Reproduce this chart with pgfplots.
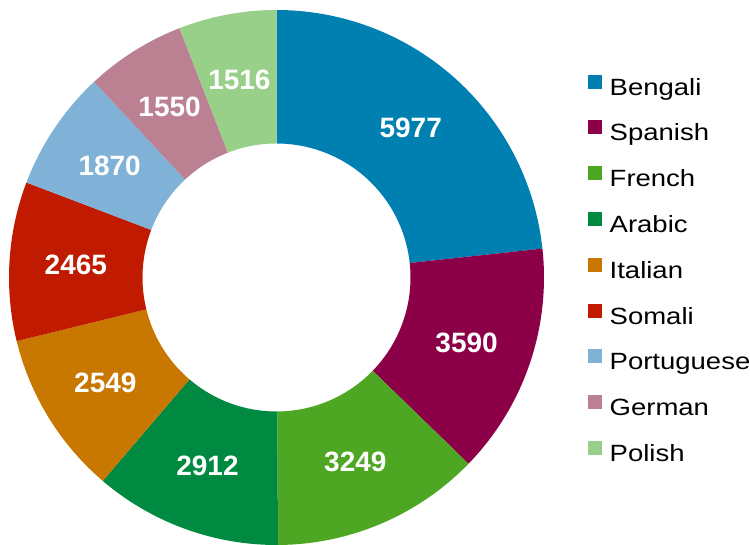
\documentclass[border=0pt]{standalone}
\usepackage{pgfplots}
\usepackage{pgfplotstable}
\pgfplotsset{compat=1.18}
\usepackage{fontspec}
\setmainfont{Liberation Sans}
\newfontfamily\legfont[FakeStretch=1.17]{Liberation Sans}

\definecolor{cBengali}{HTML}{0080B1}
\definecolor{cSpanish}{HTML}{8B0046}
\definecolor{cFrench}{HTML}{4EA722}
\definecolor{cArabic}{HTML}{008940}
\definecolor{cItalian}{HTML}{C87800}
\definecolor{cSomali}{HTML}{C01A00}
\definecolor{cPortuguese}{HTML}{7FB2D6}
\definecolor{cGerman}{HTML}{BB8092}
\definecolor{cPolish}{HTML}{98D08A}

\pgfplotstableread{
lang value col
Bengali 5977 cBengali
Spanish 3590 cSpanish
French 3249 cFrench
Arabic 2912 cArabic
Italian 2549 cItalian
Somali 2465 cSomali
Portuguese 1870 cPortuguese
German 1550 cGerman
Polish 1516 cPolish
}\langtable

\def\cx{276.5}
\def\cy{267.5}
\def\Ro{267.5}
\def\Ri{134}
\def\Rm{201}

\begin{document}
\begin{tikzpicture}
\useasboundingbox (0,0) rectangle (750pt,545pt);
\begin{axis}[
  at={(0,0)}, anchor=south west,
  x=1pt, y=1pt, xmin=0, xmax=750, ymin=0, ymax=545,
  hide axis, clip=false,
  legend cell align=left,
  legend image code/.code={\fill[#1] (0pt,-0.5pt) rectangle (14pt,13.5pt); \path (21.5pt,0pt);},
  legend style={at={(axis cs:588,470.5)}, anchor=north west, draw=none, fill=none,
    inner sep=0pt, row sep=19.3pt, column sep=0pt,
    nodes={inner sep=0pt, text height=20pt, text depth=6pt,
      font=\legfont\fontsize{23.5}{28}\selectfont}},
]
\pgfmathsetmacro\total{0}
\pgfplotsforeachungrouped \i in {0,...,8}{%
  \pgfplotstablegetelem{\i}{value}\of\langtable
  \pgfmathsetmacro\total{\total+\pgfplotsretval/1000}%
}
\def\cum{0}
\pgfplotsforeachungrouped \i in {0,...,8}{%
  \pgfplotstablegetelem{\i}{value}\of\langtable \let\slval\pgfplotsretval
  \pgfplotstablegetelem{\i}{lang}\of\langtable \let\slname\pgfplotsretval
  \pgfplotstablegetelem{\i}{col}\of\langtable \let\slcol\pgfplotsretval
  \pgfmathsetmacro\angA{90-360*\cum/\total}%
  \pgfmathsetmacro\cum{\cum+\slval/1000}%
  \pgfmathsetmacro\angB{90-360*\cum/\total}%
  \pgfmathsetmacro\angM{(\angA+\angB)/2}%
  \pgfmathsetmacro\lx{\cx+\Rm*cos(\angM)}%
  \pgfmathsetmacro\ly{\cy+\Rm*sin(\angM)}%
  \edef\doslice{%
    \noexpand\addplot[fill=\slcol, draw=none, samples at={0,1,...,100}]
      ({ifthenelse(x<50.5, \cx+\Ro*cos((\angA)+(x/50)*((\angB)-(\angA))), \cx+\Ri*cos((\angB)-((x-51)/49)*((\angB)-(\angA))))},
       {ifthenelse(x<50.5, \cy+\Ro*sin((\angA)+(x/50)*((\angB)-(\angA))), \cy+\Ri*sin((\angB)-((x-51)/49)*((\angB)-(\angA))))});
    \noexpand\addlegendentry{\slname}
    \noexpand\addplot[draw=none, mark=none, forget plot, nodes near coords,
      point meta=explicit symbolic,
      nodes near coords style={anchor=center, text=white, inner sep=0pt,
        font=\noexpand\bfseries\noexpand\fontsize{28}{30}\noexpand\selectfont}]
      coordinates {(\lx,\ly) [\slval]};
  }\doslice
}
\end{axis}
\end{tikzpicture}
\end{document}
